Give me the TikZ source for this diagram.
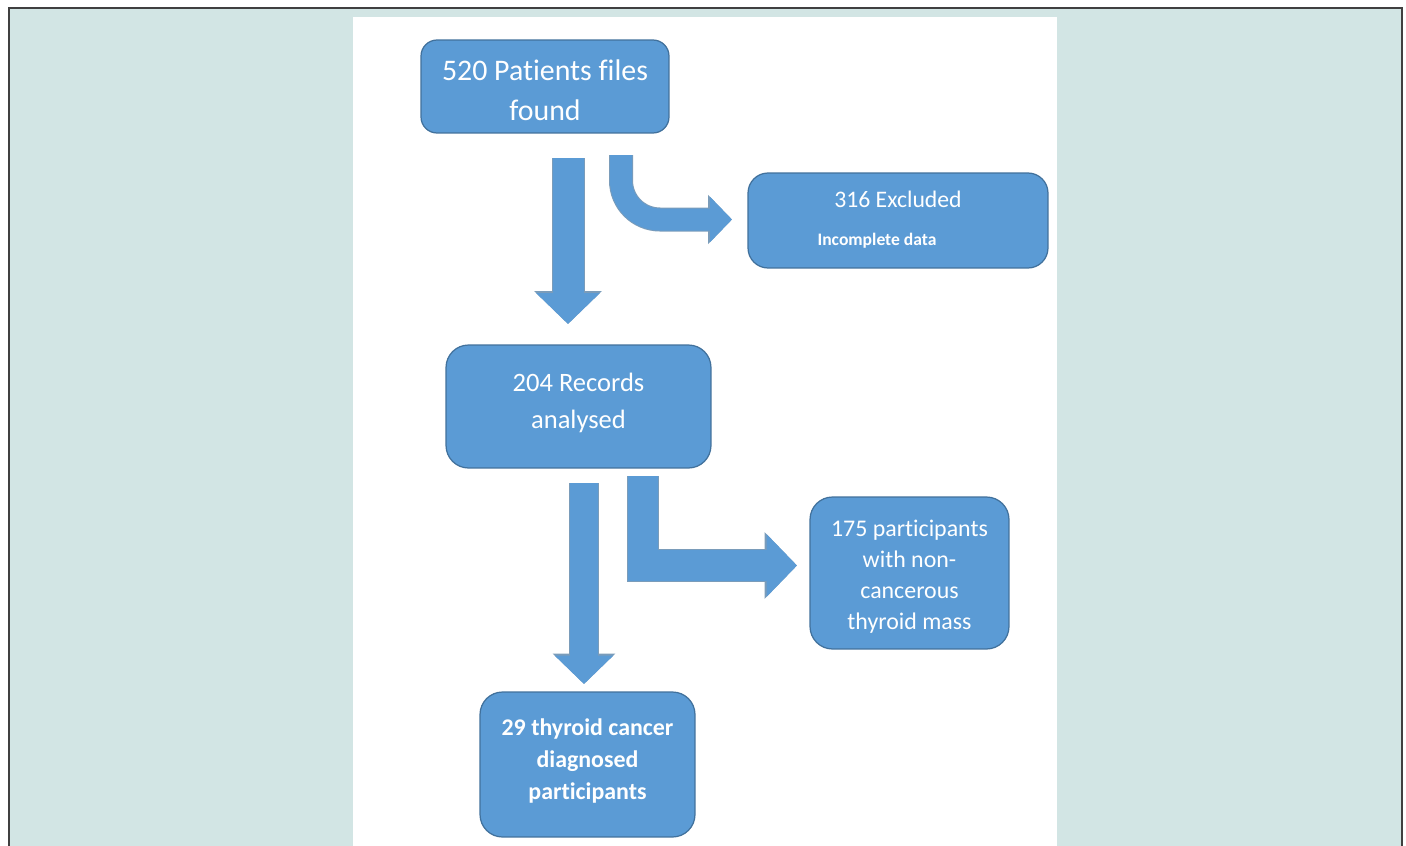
\documentclass[tikz,border=0pt]{standalone}
\usepackage{fontspec}
\setmainfont{Carlito}[Ligatures=NoCommon]
\usetikzlibrary{arrows.meta}
\definecolor{boxblue}{HTML}{5B9BD5}
\definecolor{boxedge}{HTML}{41719C}
\definecolor{pagebg}{HTML}{D2E5E4}
\definecolor{frameline}{HTML}{404040}

\begin{document}
\begin{tikzpicture}[x=0.02cm,y=-0.02cm,
    every node/.style={font=\fontsize{13.6}{17.6}\selectfont},
    box/.style={draw=boxedge,line width=0.7pt,fill=boxblue,text=white,
      rounded corners=0.45cm,align=center,inner sep=0pt,text depth=0pt},
    blockarrow/.style={draw=boxblue,line width=#1,-{Triangle[width=0pt 2,length=0pt 1]},
      preaction={draw=boxedge!70,line width=#1+0.04cm,-{Triangle[width=0pt 2,length=0pt 1]}}}]
  \useasboundingbox (0,0) rectangle (1406,845);
  % page and frame
  \fill[white] (0,0) rectangle (1406,845);
  \draw[frameline,fill=pagebg,line width=0.04cm] (9,8) rectangle (1402,870);
  \fill[white] (353,17) rectangle (1057,870);

  % boxes
  \node[box,rounded corners=0.32cm,minimum width=4.96cm,minimum height=1.86cm,
    text height=1.368cm,font=\fontsize{17}{22.8}\selectfont] (files) at (545,86.5)
    {520 Patients files\\found};
  \node[box,rounded corners=0.4cm,minimum width=6cm,minimum height=1.9cm,
    text height=0.99cm,font=\fontsize{13.5}{18}\selectfont] (excl) at (898,220.5)
    {316 Excluded\\[3.3pt]\hspace*{-0.84cm}{\bfseries\fontsize{10}{12}\selectfont Incomplete data}};
  \node[box,minimum width=5.3cm,minimum height=2.46cm,
    text height=0.888cm,font=\fontsize{15.1}{20.9}\selectfont] (recs) at (578.5,406.5)
    {204 Records\\analysed};
  \node[box,minimum width=3.98cm,minimum height=3.04cm,
    text height=2.252cm] (benign) at (909.5,573)
    {175 participants\\with non-\\cancerous\\thyroid mass};
  \node[box,minimum width=4.3cm,minimum height=2.9cm,
    text height=1.408cm,font=\bfseries\fontsize{13.6}{18.2}\selectfont] (cancer) at (587.5,764.5)
    {29 thyroid cancer\\diagnosed\\participants};

  % block arrows
  \coordinate (a_0) at (568,158);   \coordinate (a_1) at (568,324);
  \coordinate (b_0) at (621,155);   \coordinate (b_1) at (732,219.5);
  \coordinate (c_0) at (584,483);   \coordinate (c_1) at (584,684);
  \coordinate (d_0) at (643,476);   \coordinate (d_1) at (797,565.5);
  \draw[blockarrow=0.62cm] (a_0) -- (a_1);
  \draw[blockarrow=0.44cm,rounded corners=0.78cm] (b_0) |- (b_1);
  \draw[blockarrow=0.57cm] (c_0) -- (c_1);
  \draw[blockarrow=0.61cm] (d_0) |- (d_1);
\end{tikzpicture}
\end{document}
